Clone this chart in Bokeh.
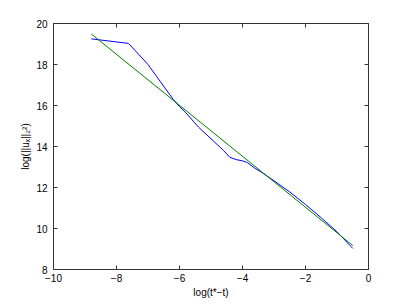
from bokeh.plotting import figure
from bokeh.models import LinearAxis, FixedTicker, Range1d
from bokeh.embed import file_html
from bokeh.resources import INLINE

# Data
blue_x = [-8.8, -7.62, -7.3, -7.0, -6.6, -6.2, -6.0, -5.8, -5.4, -5.0, -4.6, -4.4,
          -4.2, -4.0, -3.85, -3.6, -3.4, -3.0, -2.5, -2.0, -1.5, -1.0, -0.5]
blue_y = [19.25, 19.03, 18.5, 18.0, 17.15, 16.3, 15.95, 15.65, 14.95, 14.38, 13.8, 13.47,
          13.36, 13.3, 13.22, 12.93, 12.75, 12.33, 11.78, 11.17, 10.52, 9.84, 9.03]
green_x = [-8.8, -0.5]
green_y = [19.49, 9.17]

x_ticks = [-10, -8, -6, -4, -2, 0]
x_tick_labels = ["\u221210", "\u22128", "\u22126", "\u22124", "\u22122", "0"]
y_ticks = [8, 10, 12, 14, 16, 18, 20]
y_tick_labels = ["8", "10", "12", "14", "16", "18", "20"]

FONT = "Liberation Sans"
AX = "#333333"

p = figure(width=400, height=300, output_backend="svg", toolbar_location=None,
           x_range=Range1d(-10, 0), y_range=Range1d(8, 20),
           min_border_left=53, min_border_right=32, min_border_top=23, min_border_bottom=29,
           x_axis_label="log(t*\u2212t)", y_axis_label="log(||u\u2093||\u2082\u00b2)")
p.grid.visible = False
p.outline_line_color = AX
p.background_fill_color = "white"
p.border_fill_color = "white"

p.line(blue_x, blue_y, line_color="#0000ff", line_width=1)
p.line(green_x, green_y, line_color="#008000", line_width=1)

def style(ax, ticks, labels, show):
    ax.ticker = FixedTicker(ticks=ticks)
    ax.minor_tick_line_color = None
    ax.major_tick_in = 4
    ax.major_tick_out = 0
    ax.axis_line_color = AX
    ax.major_tick_line_color = AX
    ax.major_label_text_font = FONT
    ax.axis_label_text_font = FONT
    ax.axis_label_text_font_style = "normal"
    ax.axis_label_text_color = "black"
    if show:
        ax.major_label_overrides = {t: l for t, l in zip(ticks, labels)}
        ax.major_label_text_color = "black"
        ax.major_label_text_font_size = "10px"
        ax.axis_label_text_font_size = "10px"
    else:
        ax.major_label_text_color = None
        ax.major_label_text_font_size = "0px"
        ax.major_label_standoff = 0

style(p.xaxis[0], x_ticks, x_tick_labels, True)
style(p.yaxis[0], y_ticks, y_tick_labels, True)
p.xaxis[0].major_label_standoff = 4
p.xaxis[0].axis_label_standoff = 2
p.yaxis[0].major_label_standoff = 6
p.yaxis[0].axis_label_standoff = 2

top = LinearAxis()
right = LinearAxis()
style(top, x_ticks, x_tick_labels, False)
style(right, y_ticks, y_tick_labels, False)
p.add_layout(top, "above")
p.add_layout(right, "right")

open("out.html", "w").write(file_html(p, INLINE))
